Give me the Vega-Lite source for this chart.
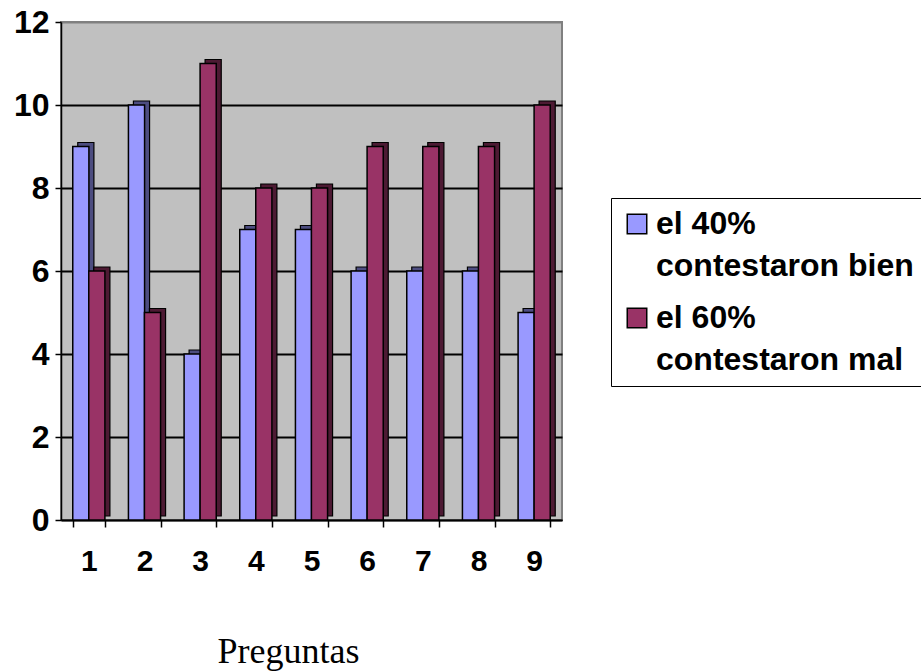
{
  "$schema": "https://vega.github.io/schema/vega-lite/v6.json",
  "autosize": {"type": "none"},
  "padding": {"left": 61, "top": 22, "right": 359, "bottom": 151},
  "width": 501,
  "height": 498,
  "background": "white",
  "data": {
    "values": [
      {"pregunta": "1", "serie": "bien", "valor": 9},
      {"pregunta": "1", "serie": "mal", "valor": 6},
      {"pregunta": "2", "serie": "bien", "valor": 10},
      {"pregunta": "2", "serie": "mal", "valor": 5},
      {"pregunta": "3", "serie": "bien", "valor": 4},
      {"pregunta": "3", "serie": "mal", "valor": 11},
      {"pregunta": "4", "serie": "bien", "valor": 7},
      {"pregunta": "4", "serie": "mal", "valor": 8},
      {"pregunta": "5", "serie": "bien", "valor": 7},
      {"pregunta": "5", "serie": "mal", "valor": 8},
      {"pregunta": "6", "serie": "bien", "valor": 6},
      {"pregunta": "6", "serie": "mal", "valor": 9},
      {"pregunta": "7", "serie": "bien", "valor": 6},
      {"pregunta": "7", "serie": "mal", "valor": 9},
      {"pregunta": "8", "serie": "bien", "valor": 6},
      {"pregunta": "8", "serie": "mal", "valor": 9},
      {"pregunta": "9", "serie": "bien", "valor": 5},
      {"pregunta": "9", "serie": "mal", "valor": 10}
    ]
  },
  "encoding": {
    "x": {
      "field": "pregunta",
      "type": "nominal",
      "scale": {"paddingInner": 0.42, "paddingOuter": 0.21},
      "axis": {
        "title": "Preguntas",
        "labelAngle": 0,
        "labelFont": "Liberation Sans",
        "labelFontSize": 30,
        "labelFontWeight": "bold",
        "labelColor": "black",
        "labelPadding": 19,
        "tickBand": "extent",
        "tickSize": 7,
        "tickColor": "black",
        "tickWidth": 1.5,
        "domainColor": "black",
        "domainWidth": 1.5,
        "titleFont": "Liberation Serif",
        "titleFontSize": 36,
        "titleFontWeight": "normal",
        "titleColor": "black",
        "titleX": 227,
        "titleY": 142,
        "titleAlign": "center",
        "titleBaseline": "alphabetic"
      }
    },
    "y": {
      "field": "valor",
      "type": "quantitative",
      "scale": {"domain": [0, 12], "nice": false},
      "axis": {
        "title": null,
        "values": [0, 2, 4, 6, 8, 10, 12],
        "labelFont": "Liberation Sans",
        "labelFontSize": 32,
        "labelFontWeight": "bold",
        "labelColor": "black",
        "labelPadding": 6,
        "tickSize": 6,
        "tickColor": "black",
        "tickWidth": 1.5,
        "domainColor": "black",
        "domainWidth": 1.5,
        "grid": true,
        "gridColor": {"condition": {"test": "datum.value == 12", "value": "#808080"}, "value": "black"},
        "gridWidth": 1.8
      }
    }
  },
  "layer": [
    {
      "transform": [{"filter": "datum.serie == 'bien'"}],
      "mark": {"type": "bar", "width": {"band": 0.5}, "xOffset": -3, "yOffset": -4, "y2Offset": -4, "fill": "#4d4d80", "stroke": "black", "strokeWidth": 1.2}
    },
    {
      "transform": [{"filter": "datum.serie == 'bien'"}],
      "mark": {"type": "bar", "width": {"band": 0.5}, "xOffset": -8, "stroke": "black", "strokeWidth": 1.5},
      "encoding": {
        "color": {"field": "serie", "type": "nominal", "scale": {"domain": ["bien", "mal"], "range": ["#9999ff", "#993366"]}}
      }
    },
    {
      "transform": [{"filter": "datum.serie == 'mal'"}],
      "mark": {"type": "bar", "width": {"band": 0.5}, "xOffset": 13, "yOffset": -4, "y2Offset": -4, "fill": "#4d1a33", "stroke": "black", "strokeWidth": 1.2}
    },
    {
      "transform": [{"filter": "datum.serie == 'mal'"}],
      "mark": {"type": "bar", "width": {"band": 0.5}, "xOffset": 8, "stroke": "black", "strokeWidth": 1.5},
      "encoding": {
        "color": {
          "field": "serie",
          "type": "nominal",
          "scale": {"domain": ["bien", "mal"], "range": ["#9999ff", "#993366"]},
          "legend": {
            "title": null,
            "orient": "none",
            "legendX": 550,
            "legendY": 176,
            "labelExpr": "datum.label == 'bien' ? ['el 40%', 'contestaron bien'] : ['el 60%', 'contestaron mal']",
            "labelFont": "Liberation Sans",
            "labelFontSize": 32,
            "labelFontWeight": "bold",
            "labelColor": "black",
            "labelLimit": 400,
            "labelOffset": 3,
            "symbolType": "square",
            "symbolSize": 380,
            "symbolStrokeColor": "black",
            "symbolStrokeWidth": 1.5,
            "rowPadding": 20,
            "padding": 10,
            "strokeColor": "black",
            "fillColor": "white"
          }
        }
      }
    }
  ],
  "config": {
    "view": {"fill": "#c0c0c0", "stroke": "#808080", "strokeWidth": 2},
    "style": {"guide-label": {"lineHeight": 42}}
  }
}
